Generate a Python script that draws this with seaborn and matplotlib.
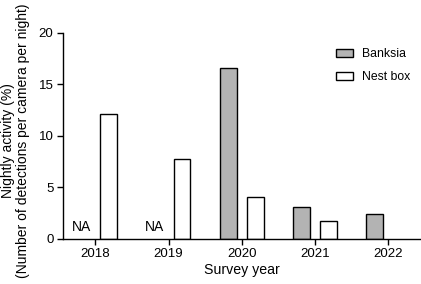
import matplotlib
matplotlib.use("Agg")
import matplotlib.pyplot as plt
import seaborn as sns
import pandas as pd
import numpy as np

years = ["2018", "2019", "2020", "2021", "2022"]
banksia = [np.nan, np.nan, 16.6, 3.1, 2.4]
nest_box = [12.1, 7.7, 4.0, 1.75, np.nan]
series = ["Banksia", "Nest box"]

df = pd.DataFrame({
    "year": years * 2,
    "site": [series[0]] * len(years) + [series[1]] * len(years),
    "value": banksia + nest_box,
})

sns.set_theme(style="ticks")
plt.rcParams["font.family"] = ["Liberation Sans", "DejaVu Sans"]
plt.rcParams["font.size"] = 9
for k in ["text.color", "axes.labelcolor", "xtick.color", "ytick.color"]:
    plt.rcParams[k] = "black"

fig = plt.figure(figsize=(4.21, 2.84), dpi=100)
ax = fig.add_axes([0.150, 0.16, 0.85, 0.724])

sns.barplot(data=df, x="year", y="value", hue="site", order=years,
            hue_order=series, palette=["#b3b3b3", "white"],
            edgecolor="black", linewidth=1.0, width=0.74, gap=0.38,
            err_kws={"linewidth": 0}, ax=ax)

for i, v in enumerate(banksia):
    if np.isnan(v):
        ax.text(i - 0.185, 0.45, "NA", ha="center", va="bottom", fontsize=10)

ax.set_xlim(-0.44, 4.45)
ax.set_ylim(0, 20)
ax.set_yticks([0, 5, 10, 15, 20])
ax.set_xlabel("Survey year", fontsize=10.2, labelpad=2)
ax.set_ylabel("Nightly activity (%)\n(Number of detections per camera per night)",
              fontsize=10.0, linespacing=1.05)
ax.yaxis.set_label_coords(-0.093, 0.478)
ax.tick_params(axis="both", labelsize=9.5, length=4, width=1, color="black", pad=3)
for s in ["top", "right"]:
    ax.spines[s].set_visible(False)
for s in ["left", "bottom"]:
    ax.spines[s].set_color("black")
    ax.spines[s].set_linewidth(1)

leg = ax.legend(loc="upper right", bbox_to_anchor=(1.0, 0.98), frameon=False,
                fontsize=8.8, handlelength=1.4, handleheight=0.6,
                labelspacing=0.9, handletextpad=0.7, title=None)

fig.savefig("out.png", dpi=100)
